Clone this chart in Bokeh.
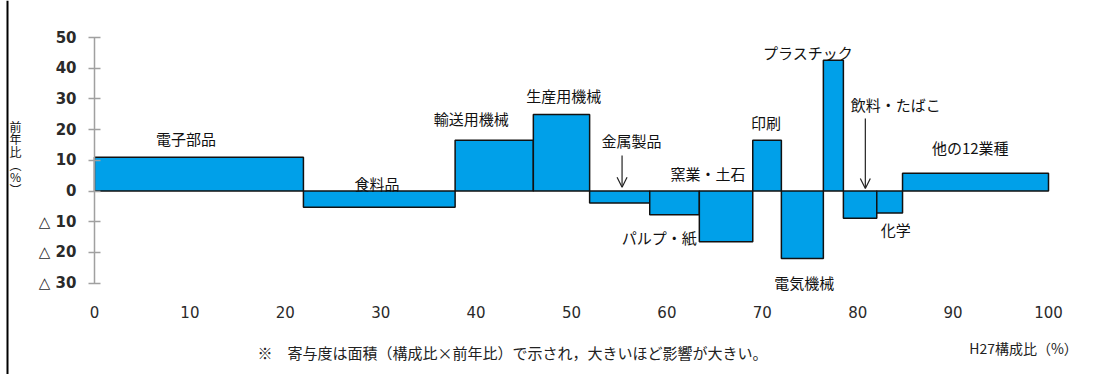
import numpy as np
from bokeh.plotting import figure
from bokeh.models import Label, Arrow, OpenHead, FixedTicker, Span, ColumnDataSource
from bokeh.embed import file_html
from bokeh.resources import INLINE

# ---- data ----
industries = ["電子部品", "食料品", "輸送用機械", "生産用機械", "金属製品", "パルプ・紙",
              "窯業・土石", "印刷", "電気機械", "プラスチック", "飲料・たばこ", "化学", "他の12業種"]
share = [21.9, 15.9, 8.2, 5.9, 6.3, 5.2, 5.6, 3.0, 4.4, 2.1, 3.5, 2.7, 15.3]   # H27構成比(%)
yoy = [11.0, -5.3, 16.5, 24.9, -3.9, -7.7, -16.5, 16.5, -22.0, 42.6, -8.9, -7.2, 5.8]  # 前年比(%)
y_ticks = [-30, -20, -10, 0, 10, 20, 30, 40, 50]
y_tick_labels = ["△ 30", "△ 20", "△ 10", "0", "10", "20", "30", "40", "50"]
x_ticks = [0, 10, 20, 30, 40, 50, 60, 70, 80, 90, 100]

# label anchor positions (layout only, data units)
label_pos = [(9.6, 17.2), (29.6, 2.4), (39.5, 23.7), (49.2, 31.2), (56.3, 16.5), (59.2, -15.1),
             (64.3, 5.8), (70.4, 22.2), (74.4, -29.8), (74.8, 45.0), (84.0, 28.3), (84.0, -12.7), (91.8, 14.1)]

share_a = np.array(share)
right = np.cumsum(share_a)
left = right - share_a
vals = np.array(yoy)
src = ColumnDataSource(dict(left=left, right=right,
                            top=np.maximum(vals, 0), bottom=np.minimum(vals, 0),
                            name=industries))

# pixel geometry: x=0 at px 94, x=100 at px 1048; y=0 at px 190.5, y=50 at px 37
W, H = 1112, 374
sx = (1048 - 94) / 100.0
sy = (190.5 - 37) / 50.0
x_range = (-94 / sx, (W - 94) / sx)
y_range = ((190.5 - H) / sy, 190.5 / sy)

p = figure(width=W, height=H, x_range=x_range, y_range=y_range,
           output_backend="svg", toolbar_location=None,
           min_border=0, min_border_left=0, min_border_right=0, min_border_top=0, min_border_bottom=0)
p.outline_line_color = None
p.xgrid.visible = False
p.ygrid.visible = False
p.background_fill_color = "white"
p.border_fill_color = "white"

p.quad(left="left", right="right", top="top", bottom="bottom", source=src,
       fill_color="#00a0e9", line_color="#111111", line_width=1.5)

# y axis at x=0
ya = p.yaxis[0]
ya.fixed_location = 0
ya.bounds = (-30, 50)
ya.ticker = FixedTicker(ticks=y_ticks)
ya.major_label_overrides = {t: l for t, l in zip(y_ticks, y_tick_labels)}
ya.axis_line_color = "#a0a0a0"
ya.axis_line_width = 1.5
ya.major_tick_line_color = "#a0a0a0"
ya.major_tick_line_width = 1.5
ya.major_tick_in = 6
ya.major_tick_out = 6
ya.minor_tick_line_color = None
ya.major_label_standoff = 12
ya.major_label_text_font = "DejaVu Sans"
ya.major_label_text_font_size = "15px"
ya.major_label_text_font_style = "bold"
ya.major_label_text_color = "#2a2a2a"

# x axis at y=-30
xa = p.xaxis[0]
xa.fixed_location = -30
xa.bounds = (0, 100)
xa.ticker = FixedTicker(ticks=x_ticks)
xa.axis_line_color = None
xa.major_tick_line_color = None
xa.minor_tick_line_color = None
xa.major_label_standoff = 17
xa.major_label_text_font = "DejaVu Sans"
xa.major_label_text_font_size = "15px"
xa.major_label_text_color = "#2a2a2a"

JP = "Noto Sans CJK JP"
for name, (lx, ly) in zip(industries, label_pos):
    p.add_layout(Label(x=lx, y=ly, text=name, text_font=JP, text_font_size="15px",
                       text_align="center", text_baseline="middle", text_color="#111111"))

# arrows for 金属製品 and 飲料・たばこ
p.add_layout(Arrow(x_start=55.3, y_start=11.6, x_end=55.3, y_end=1.2, line_color="#222222",
                   line_width=1.2, end=OpenHead(size=10, line_color="#222222", line_width=1.2)))
p.add_layout(Arrow(x_start=80.8, y_start=23.6, x_end=80.8, y_end=0.8, line_color="#222222",
                   line_width=1.2, end=OpenHead(size=10, line_color="#222222", line_width=1.2)))

# y-axis title, stacked vertically
for ch, py in zip(["前", "年", "比", "︵", "%", "︶"], [126, 138, 151, 164, 176, 189]):
    p.add_layout(Label(x=(15 - 94) / sx, y=(190.5 - py) / sy, text=ch, text_font=JP,
                       text_font_size="12px", text_align="center", text_baseline="middle",
                       text_color="#111111"))

# x-axis title and footnote
p.add_layout(Label(x=(1023 - 94) / sx, y=(190.5 - 347) / sy, text="H27構成比（%）", text_font=JP,
                   text_font_size="14px", text_align="center", text_baseline="middle",
                   text_color="#222222"))
p.add_layout(Label(x=(512 - 94) / sx, y=(190.5 - 352) / sy,
                   text="※　寄与度は面積（構成比×前年比）で示され，大きいほど影響が大きい。",
                   text_font=JP, text_font_size="15px",
                   text_align="center", text_baseline="middle", text_color="#222222"))

# left border line of the frame
p.add_layout(Span(location=(7 - 94) / sx, dimension="height", line_color="black", line_width=2))

open("out.html", "w").write(file_html(p, INLINE))
